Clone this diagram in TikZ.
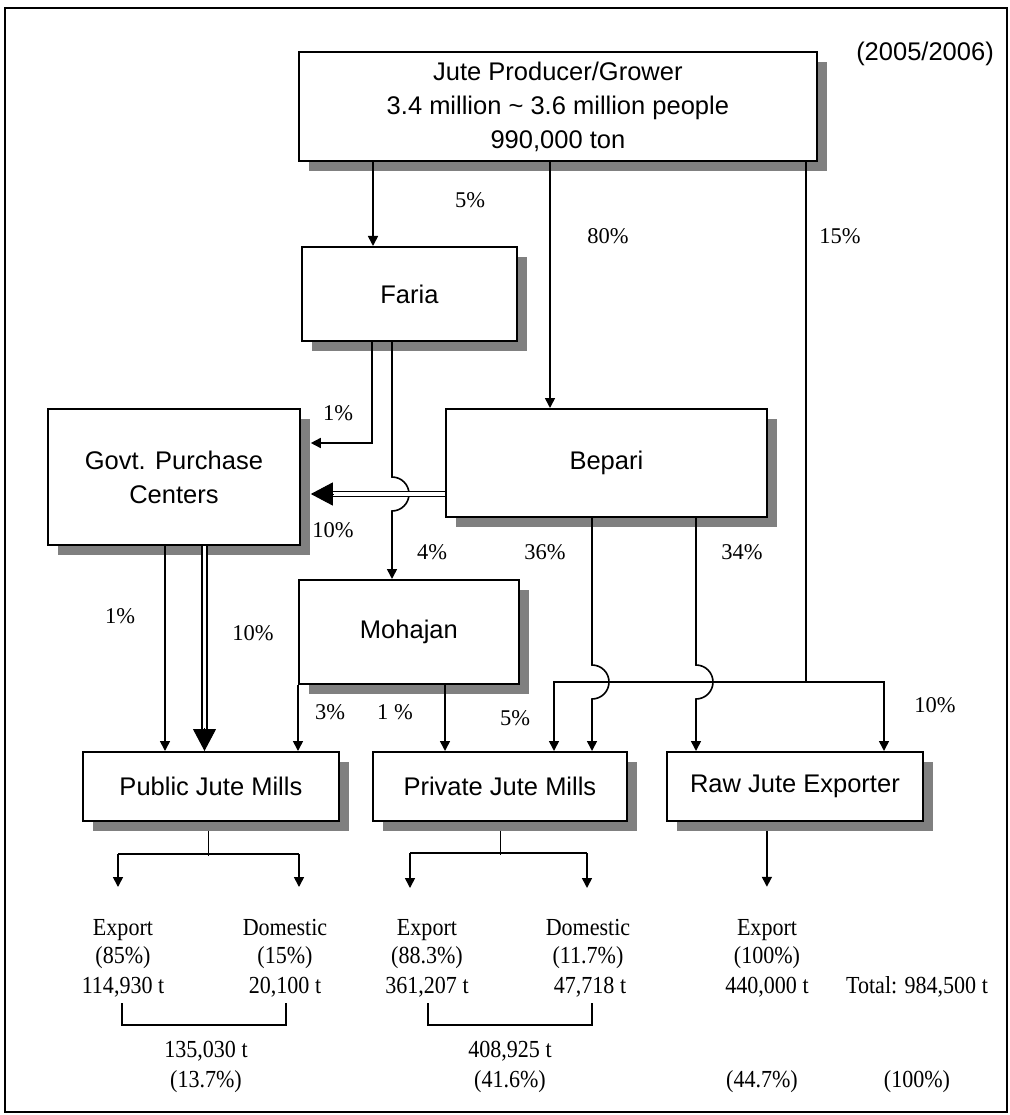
\documentclass[tikz,border=0pt]{standalone}
\usepackage{fontspec}
\setmainfont{Liberation Serif}
\newfontfamily\sansbox{Liberation Sans}
\newfontfamily\narrowserif{Liberation Serif}[FakeStretch=0.9]
\usetikzlibrary{arrows.meta,shadows,calc}
\definecolor{shade}{HTML}{808080}

\begin{document}
\begin{tikzpicture}[x=1pt,y=-1pt,
  box/.style={draw, line width=1.8pt, fill=white, inner sep=0pt, anchor=north west, align=center,
    font=\sansbox\fontsize{25.5}{34}\selectfont,
    drop shadow={shadow xshift=10pt, shadow yshift=-10pt, fill=shade, opacity=1}},
  flow/.style={line width=1.6pt, -{Triangle[width=10pt,length=10pt]}},
  link/.style={line width=1.6pt},
  stem/.style={line width=1pt},
  twin/.style={double, double distance=3.6pt, line width=1.6pt},
  bigtip/.style={line width=1pt, -{Triangle[width=23pt,length=22pt]}},
  pct/.style={font=\fontsize{22.5}{26}\selectfont, inner sep=0pt},
  tally/.style={font=\narrowserif\fontsize{24.5}{28}\selectfont, inner sep=0pt, anchor=base}
]
\path[use as bounding box] (0,0) rectangle (1009,1115);
\draw[line width=1.5pt] (5,8) rectangle (1007,1112);

% ---- boxes ----
\node[box, minimum width=518pt, minimum height=109pt] (P) at (298,51)
  {Jute Producer/Grower\\3.4 million \textasciitilde{} 3.6 million people\\990,000 ton};
\node[box, minimum width=215pt, minimum height=94pt] (F) at (301,246) {Faria};
\node[box, minimum width=252pt, minimum height=136pt] (G) at (47,408) {Govt. Purchase\\Centers};
\node[box, minimum width=321pt, minimum height=108pt] (B) at (445,408) {Bepari};
\node[box, minimum width=220pt, minimum height=104pt] (M) at (298,579) {Mohajan};
\node[box, minimum width=256pt, minimum height=69pt] (PU) at (82,751) {Public Jute Mills};
\node[box, minimum width=254pt, minimum height=69pt] (PR) at (372,751) {Private Jute Mills};
\node[box, minimum width=256pt, minimum height=69pt] (R) at (666,751) {Raw Jute Exporter};

\node[font=\sansbox\fontsize{25.5}{30}\selectfont, anchor=base, inner sep=0pt] (yr) at (925,61) {(2005/2006)};

% ---- connector guide coordinates ----
\coordinate (xa) at (373,0);
\coordinate (xb) at (550,0);
\coordinate (hub) at (806,682);
\coordinate (hl) at (554,682);
\coordinate (hr) at (884,682);
\coordinate (xf1) at (372,443);
\coordinate (xf2) at (392,494);
\coordinate (yb) at (0,494);
\coordinate (xb1) at (592,682);
\coordinate (xb2) at (696,682);
\coordinate (xg1) at (165,0);
\coordinate (xg2) at (204.5,0);
\coordinate (xm) at (445,0);

% producer outflows
\draw[flow] (P.south -| xa) -- (F.north -| xa);
\draw[flow] (P.south -| xb) -- (B.north -| xb);
\draw[link] (P.south -| hub) -- (hub);
\draw[flow] (hub) -- (hl) -- (PR.north -| hl);
\draw[flow] (hub) -- (hr) -- (R.north -| hr);

% faria outflows
\draw[flow] (F.south -| xf1) -- (xf1) -- ($(G.east |- xf1)+(10,0)$);
\draw[flow] (F.south -| xf2) -- ($(xf2)+(0,-17)$) arc[start angle=90,end angle=-90,radius=17pt] -- (M.north -| xf2);

% bepari outflows
\draw[twin] (B.west |- yb) -- ($(G.east |- yb)+(31,0)$);
\draw[bigtip] ($(G.east |- yb)+(33,0)$) -- ($(G.east |- yb)+(10,0)$);
\draw[flow] (B.south -| xb1) -- ($(xb1)+(0,-17)$) arc[start angle=90,end angle=-90,radius=17pt] -- (PR.north -| xb1);
\draw[flow] (B.south -| xb2) -- ($(xb2)+(0,-17)$) arc[start angle=90,end angle=-90,radius=17pt] -- (R.north -| xb2);

% govt outflows
\draw[flow] (G.south -| xg1) -- (PU.north -| xg1);
\draw[twin] (G.south -| xg2) -- ($(PU.north -| xg2)+(0,-21)$);
\draw[bigtip] ($(PU.north -| xg2)+(0,-23)$) -- (PU.north -| xg2);

% mohajan outflows
\draw[flow] (M.south west) -- (PU.north -| M.south west);
\draw[flow] (M.south -| xm) -- (PR.north -| xm);

% ---- flow shares ----
\node[pct] (l5a)  at (470,200) {5\%};
\node[pct] (l80)  at (608,236) {80\%};
\node[pct] (l15)  at (840,236) {15\%};
\node[pct] (l1a)  at (338,413) {1\%};
\node[pct] (l10a) at (333,530) {10\%};
\node[pct] (l4)   at (432,552) {4\%};
\node[pct] (l36)  at (545,552) {36\%};
\node[pct] (l34)  at (742,552) {34\%};
\node[pct] (l1b)  at (120,616) {1\%};
\node[pct] (l10b) at (253,633) {10\%};
\node[pct] (l3)   at (330,712) {3\%};
\node[pct] (l1c)  at (395,712) {1 \%};
\node[pct] (l5b)  at (515,718) {5\%};
\node[pct] (l10c) at (935,705) {10\%};

% ---- mill outputs ----
\coordinate (puL) at (118,854);
\coordinate (puR) at (299,854);
\coordinate (prL) at (410,853);
\coordinate (prR) at (587,853);
\draw[stem] ($(PU.south)+(-2,9)$) -- ($(PU.south)+(-2,34)$);
\draw[link] (puL) -- (puR);
\draw[flow] (puL) -- ++(0,33);
\draw[flow] (puR) -- ++(0,33);
\draw[stem] ($(PR.south)+(1,9)$) -- ($(PR.south)+(1,33)$);
\draw[link] (prL) -- (prR);
\draw[flow] (prL) -- ++(0,35);
\draw[flow] (prR) -- ++(0,35);
\draw[flow] ($(R.south)+(-28,9)$) -- ($(R.south)+(-28,65)$);

% ---- tallies ----
\node[tally] (e1) at (123,935) {Export};
\node[tally] (e1p) at (123,963) {(85\%)};
\node[tally] (e1t) at (123,993) {114,930 t};
\node[tally] (d1) at (285,935) {Domestic};
\node[tally] (d1p) at (285,963) {(15\%)};
\node[tally] (d1t) at (285,993) {20,100 t};
\node[tally] (e2) at (427,935) {Export};
\node[tally] (e2p) at (427,963) {(88.3\%)};
\node[tally] (e2t) at (427,993) {361,207 t};
\node[tally] (d2) at (588,935) {Domestic};
\node[tally] (d2p) at (588,963) {(11.7\%)};
\node[tally] (d2t) at (590,993) {47,718 t};
\node[tally] (e3) at (767,935) {Export};
\node[tally] (e3p) at (767,963) {(100\%)};
\node[tally] (e3t) at (767,993) {440,000 t};
\node[tally] (tot) at (917,993) {Total: 984,500 t};

\draw[line width=1.5pt] (122,1003) -- (122,1025) -- (286,1025) -- (286,1003);
\draw[line width=1.5pt] (428,1003) -- (428,1025) -- (592,1025) -- (592,1003);

\node[tally] (s1) at (206,1057) {135,030 t};
\node[tally] (s1p) at (206,1087) {(13.7\%)};
\node[tally] (s2) at (510,1057) {408,925 t};
\node[tally] (s2p) at (510,1087) {(41.6\%)};
\node[tally] (s3p) at (762,1087) {(44.7\%)};
\node[tally] (s4p) at (917,1087) {(100\%)};
\end{tikzpicture}
\end{document}
